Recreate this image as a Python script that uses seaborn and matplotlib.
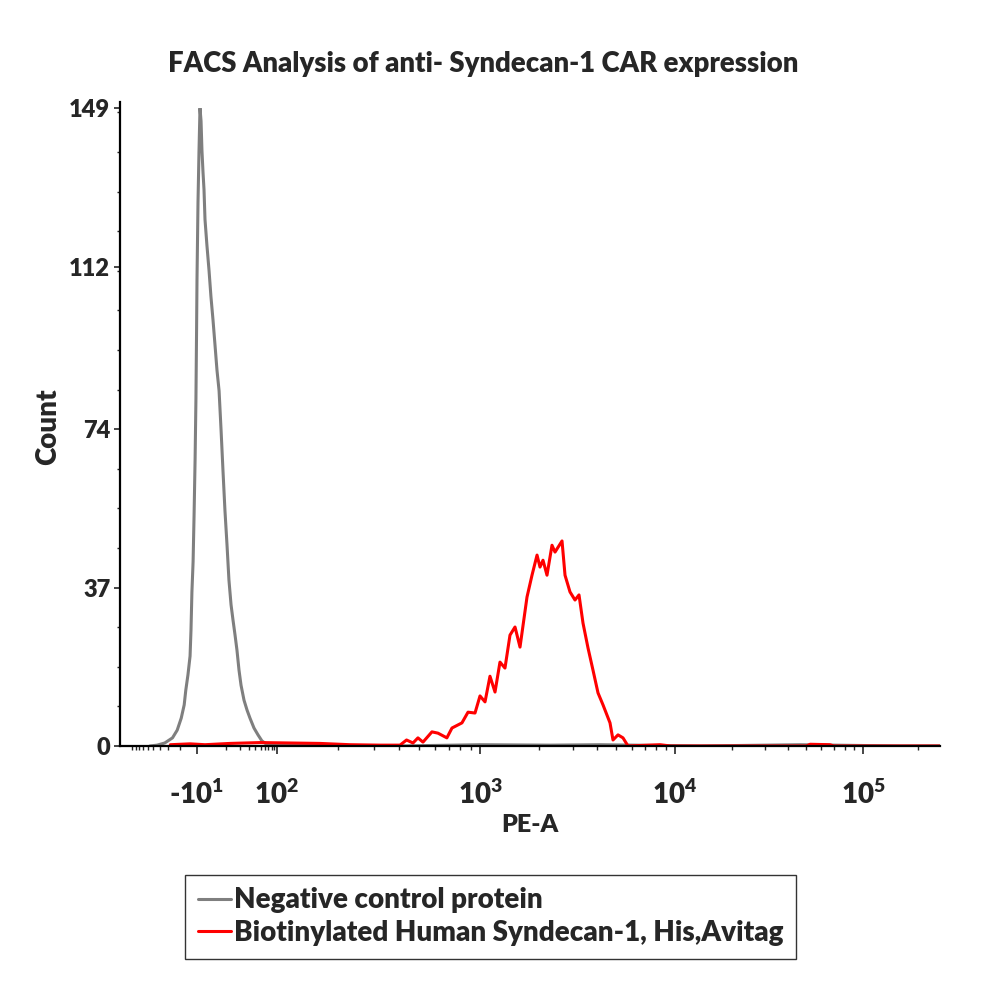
import numpy as np
import pandas as pd
import matplotlib
matplotlib.use("Agg")
import matplotlib.pyplot as plt
from matplotlib.ticker import FixedLocator, AutoMinorLocator, NullFormatter
import seaborn as sns

# negative control histogram (PE-A value, count)
neg_pe = [-56, -44, -34, -26, -22, -19, -17, -16, -14.7, -13.5,
          -13.0, -12.5, -11.9, -11.4, -10.9, -10.5, -10.2, -10.0, -8.5, -7.1,
          -5.8, -4.5, -3.4, -2.2, -1.1, 0, 0.8, 1.7, 2.5, 3.4,
          4.3, 5.2, 6.2, 7.2, 8.2, 9.3, 10.5, 11.7, 13.1, 14.5,
          16.0, 17.6, 19.4, 21.3, 24.4, 27.9, 31.8, 37.8, 44.9, 53,
          63, 92, 130, 404, 1000, 2290, 4120, 13600, 46200, 159000,
          262000]
neg_count = [0, 0.2, 0.7, 1.9, 3.7, 6.5, 9.6, 13, 16.6, 21,
             27, 36, 43, 54, 67, 81, 97, 109, 127, 139,
             149, 146, 139, 134, 130, 123, 117, 111, 105, 99.5,
             93.6, 87.8, 83, 73.8, 64.4, 55, 47, 38.8, 33, 29.4,
             26, 22.4, 17.7, 14.2, 10.7, 8.4, 6.5, 4.2, 2.6, 1.2,
             0.5, 0.2, 0.2, 0, 0.3, 0.2, 0.3, 0, 0.3, 0,
             0]

# biotinylated Syndecan-1 histogram
pos_pe = [-28, -13.5, 0, 12.4, 49, 116, 163, 229, 321, 404,
          435, 468, 495, 524, 580, 621, 687, 728, 815, 873,
          945, 1000, 1061, 1125, 1194, 1266, 1343, 1425, 1512, 1604,
          1742, 1848, 1961, 2031, 2104, 2206, 2340, 2425, 2634, 2729,
          2894, 3070, 3219, 3375, 3580, 3798, 4029, 4274, 4642, 4809,
          5102, 5411, 5741, 8375, 9500, 50000, 52300, 66700, 70000, 262000]
pos_count = [0.3, 0.5, 0.3, 0.6, 0.8, 0.7, 0.6, 0.3, 0.2, 0.2,
             1.4, 0.7, 1.9, 0.9, 3.3, 3.0, 1.9, 4.2, 5.4, 7.9,
             7.7, 11.7, 10.3, 16.3, 12.6, 19.6, 18.2, 25.9, 27.8, 23.1,
             34.8, 39.9, 44.6, 41.8, 43.4, 39.9, 46.9, 45.3, 47.9, 39.9,
             36.0, 34.1, 35.3, 28.7, 22.9, 17.7, 12.4, 9.6, 5.4, 1.4,
             2.6, 1.9, 0, 0.3, 0, 0, 0.4, 0.3, 0, 0]

labels = ["Negative control protein", "Biotinylated Human Syndecan-1, His,Avitag"]
colors = ["#7f7f7f", "#ff0000"]

y_ticks = [0, 37, 74, 112, 149]
x_ticks = [-10, 100, 1000, 10000, 100000]
x_ticklabels = [r"-$\mathbf{10^{1}}$", r"$\mathbf{10^{2}}$", r"$\mathbf{10^{3}}$",
                r"$\mathbf{10^{4}}$", r"$\mathbf{10^{5}}$"]
x_minor = [-100, -90, -80, -70, -60, -50, -40, -30, -20, 10, 20, 30, 40, 50, 60, 70, 80, 90,
           200, 300, 400, 500, 600, 700, 800, 900,
           2000, 3000, 4000, 5000, 6000, 7000, 8000, 9000,
           20000, 30000, 40000, 50000, 60000, 70000, 80000, 90000, 200000]

# biexponential-like axis: anchors of the display scale
scale_vals = np.array([-150, -10, 0, 100, 1e3, 1e4, 1e5, 262144])
scale_pos = np.array([0, 77, 85, 157, 360, 555, 743, 820])
scale_g = np.arcsinh(scale_vals / 10)


def biex_fwd(v):
    return np.interp(np.arcsinh(np.asarray(v, dtype=float) / 10), scale_g, scale_pos)


def biex_inv(p):
    return 10 * np.sinh(np.interp(np.asarray(p, dtype=float), scale_pos, scale_g))


df = pd.concat([
    pd.DataFrame({"PE-A": neg_pe, "Count": neg_count, "sample": labels[0]}),
    pd.DataFrame({"PE-A": pos_pe, "Count": pos_count, "sample": labels[1]}),
])

sns.set_style("white")
plt.rcParams["font.family"] = ["Lato", "DejaVu Sans"]
plt.rcParams["font.weight"] = "heavy"
plt.rcParams["mathtext.fontset"] = "custom"
plt.rcParams["mathtext.bf"] = "Lato:heavy"
plt.rcParams["mathtext.rm"] = "Lato:heavy"
W = "heavy"

fig = plt.figure(figsize=(10, 10.02), dpi=100)
ax = fig.add_axes([0.12, 0.2555, 0.82, 0.6365])

sns.lineplot(data=df, x="PE-A", y="Count", hue="sample", palette=colors,
             estimator=None, sort=False, lw=2.2, ax=ax)

ax.set_xscale("function", functions=(biex_fwd, biex_inv))
ax.set_xlim(-150, 262144)
ax.set_ylim(0, 149)

sns.despine(ax=ax)
for s in ["left", "bottom"]:
    ax.spines[s].set_linewidth(1.6)
    ax.spines[s].set_color("black")
ax.spines["left"].set_bounds(0, 150.5)

ax.xaxis.set_major_locator(FixedLocator(x_ticks))
ax.xaxis.set_minor_locator(FixedLocator(x_minor))
ax.xaxis.set_minor_formatter(NullFormatter())
ax.set_xticklabels(x_ticklabels, fontsize=20, fontweight=W)
ax.set_yticks(y_ticks)
ax.set_yticklabels([str(t) for t in y_ticks], fontsize=17, fontweight=W)
ax.yaxis.set_minor_locator(AutoMinorLocator(4))

ax.tick_params(axis="x", which="major", direction="out", length=6, width=1.2, pad=18, bottom=True)
ax.tick_params(axis="x", which="minor", direction="out", length=3, width=1, bottom=True)
ax.tick_params(axis="y", which="major", direction="out", length=4, width=1.2, pad=3, left=True)
ax.tick_params(axis="y", which="minor", direction="out", length=2, width=1, left=True)

ax.set_xlabel("PE-A", fontsize=18, fontweight=W, labelpad=4)
ax.set_ylabel("Count", fontsize=20, fontweight=W, labelpad=6)
ax.set_title("FACS Analysis of anti- Syndecan-1 CAR expression", fontsize=19.8,
             fontweight=W, pad=26, x=0.443)

ax.legend_.remove()
handles = ax.get_lines()[:2]
leg = fig.legend(handles, labels, loc="upper left", bbox_to_anchor=(0.185, 0.127),
                 frameon=True, fancybox=False, edgecolor="black",
                 prop={"weight": W, "size": 20}, handlelength=1.2,
                 handletextpad=0.1, borderpad=0.45, labelspacing=0.25,
                 borderaxespad=0)
leg.get_frame().set_linewidth(1.0)

fig.savefig("out.png", dpi=100, facecolor="white")
